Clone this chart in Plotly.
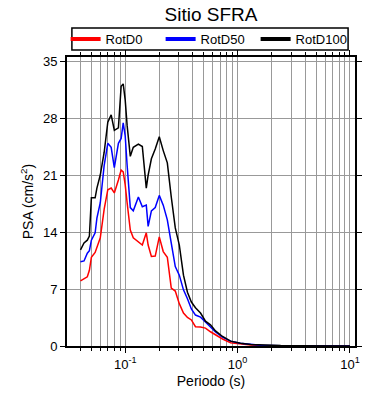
import plotly.graph_objects as go

periods = [0.040, 0.043, 0.046, 0.048, 0.050, 0.054, 0.056, 0.060, 0.065, 0.070,
           0.075, 0.080, 0.087, 0.092, 0.096, 0.100, 0.104, 0.111, 0.118, 0.131,
           0.142, 0.154, 0.160, 0.171, 0.185, 0.201, 0.218, 0.237, 0.257, 0.279,
           0.303, 0.330, 0.358, 0.388, 0.422, 0.468, 0.518, 0.574, 0.636, 0.735,
           0.866, 1.06, 1.31, 1.60, 2.42, 3.65, 6.76, 10.0]

rotd0 = [8.0, 8.25, 8.5, 9.3, 10.9, 11.5, 12.2, 13.3, 16.8, 19.2,
         19.4, 18.8, 20.4, 21.6, 21.4, 19.8, 17.6, 14.25, 13.3, 12.8,
         12.4, 13.9, 12.4, 11.0, 11.05, 13.4, 11.6, 10.9, 7.1, 6.75,
         5.2, 4.05, 3.5, 3.2, 2.37, 2.33, 2.2, 1.75, 1.35, 0.86,
         0.4, 0.25, 0.12, 0.07, 0.03, 0.02, 0.01, 0.006]

rotd50 = [10.35, 10.45, 11.4, 11.7, 13.0, 13.9, 15.7, 17.6, 22.2, 24.9,
          24.4, 21.9, 24.9, 25.5, 27.4, 25.8, 22.2, 17.0, 16.6, 18.3,
          17.1, 17.3, 14.7, 16.6, 17.0, 18.5, 17.3, 15.5, 12.65, 9.75,
          8.7, 6.9, 5.8, 4.55, 3.8, 3.55, 2.95, 2.33, 1.72, 1.1,
          0.6, 0.33, 0.17, 0.1, 0.04, 0.025, 0.012, 0.008]

rotd100 = [11.8, 12.65, 13.0, 13.5, 18.2, 18.2, 19.4, 21.0, 23.8, 27.5,
           28.4, 26.5, 26.8, 31.9, 32.2, 30.2, 27.1, 23.3, 24.4, 24.8,
           24.5, 19.4, 21.0, 23.0, 24.2, 25.7, 24.0, 22.5, 18.3, 14.5,
           12.4, 8.7, 6.6, 5.4, 4.7, 4.05, 3.05, 2.6, 1.85, 1.17,
           0.6, 0.33, 0.18, 0.12, 0.05, 0.03, 0.015, 0.01]

series_names = ["RotD0", "RotD50", "RotD100"]
series_colors = ["#ff0000", "#0000ff", "#000000"]
series_values = [rotd0, rotd50, rotd100]

y_ticks = [0, 7, 14, 21, 28, 35]
x_tickvals = [0.1, 1, 10]
x_ticktext = ["10<sup>-1</sup>", "10<sup>0</sup>", "10<sup>1</sup>"]
x_minor = [0.03, 0.04, 0.05, 0.06, 0.07, 0.08, 0.09,
           0.2, 0.3, 0.4, 0.5, 0.6, 0.7, 0.8, 0.9,
           2, 3, 4, 5, 6, 7, 8, 9]

FONT = "Liberation Sans, Arial, Helvetica, sans-serif"

fig = go.Figure()
for name, color, vals in zip(series_names, series_colors, series_values):
    fig.add_trace(go.Scatter(x=periods, y=vals, mode="lines", name=name,
                             line=dict(color=color, width=1.5), showlegend=False))
for name, color in zip(series_names, series_colors):
    fig.add_trace(go.Scatter(x=[None], y=[None], mode="lines", name=name,
                             line=dict(color=color, width=4), showlegend=True))

# legend frame drawn as a shape (tighter than plotly's legend box)
fig.add_shape(type="rect", xref="paper", yref="paper",
              x0=0.017, x1=0.976, y0=1.024, y1=1.100,
              line=dict(color="black", width=1.5), fillcolor="rgba(0,0,0,0)",
              layer="above")

fig.update_layout(
    width=390, height=400,
    margin=dict(l=67, r=35, t=57, b=54, autoexpand=False),
    paper_bgcolor="white", plot_bgcolor="white",
    font=dict(family=FONT, color="black", size=13),
    title=dict(text="Sitio SFRA", x=0.5, xref="paper", xanchor="center",
               y=0.965, yanchor="middle", font=dict(size=19, family=FONT)),
    legend=dict(orientation="h", x=0.49, xanchor="center", y=1.062, yanchor="middle",
                borderwidth=0, bgcolor="rgba(0,0,0,0)",
                entrywidth=50, font=dict(size=13), itemwidth=30,
                tracegroupgap=0),
    showlegend=True,
)

fig.update_xaxes(
    type="log", range=[-1.518, 1.045], automargin=False,
    tickvals=x_tickvals, ticktext=x_ticktext,
    ticks="outside", ticklen=5, tickwidth=1, tickcolor="black",
    showline=True, linecolor="black", linewidth=2, mirror="allticks",
    showgrid=True, gridcolor="#999999", gridwidth=1,
    minor=dict(tickvals=x_minor, ticks="outside", ticklen=3, tickcolor="black",
               showgrid=True, gridcolor="#999999", gridwidth=1),
    title=dict(text="Periodo (s)", font=dict(size=14), standoff=6),
    tickfont=dict(size=13), zeroline=False,
)
fig.update_yaxes(
    range=[0, 35.5], tickvals=y_ticks, automargin=False,
    ticks="outside", ticklen=5, tickwidth=1, tickcolor="black",
    showline=True, linecolor="black", linewidth=2, mirror="allticks",
    showgrid=True, gridcolor="#999999", gridwidth=1,
    title=dict(text="PSA (cm/s<sup>2</sup>)", font=dict(size=14), standoff=6),
    tickfont=dict(size=13), zeroline=False,
)

fig.write_html("out.html", config={"displayModeBar": False},
               post_script="document.body.style.margin='0px';")
